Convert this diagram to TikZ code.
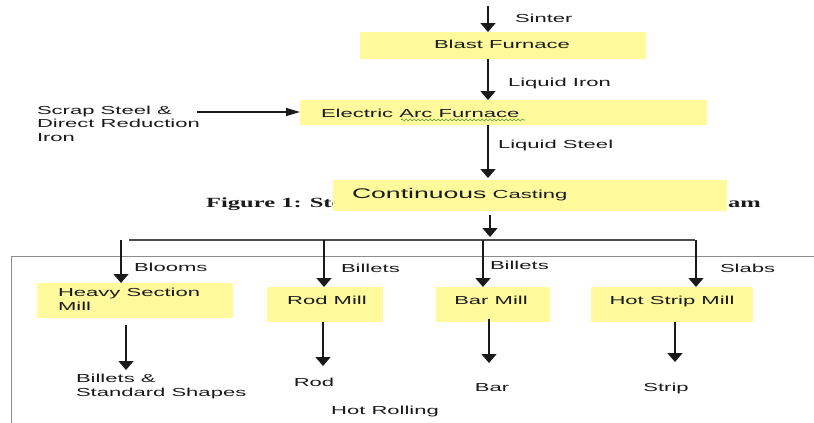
\documentclass[tikz,border=0pt]{standalone}
\usepackage{fontspec}
\setmainfont{Liberation Sans}
\newfontfamily\capfont{Liberation Serif}
\usetikzlibrary{arrows.meta,decorations.pathmorphing}
\definecolor{boxyellow}{HTML}{FFFA9C}
\definecolor{txt}{HTML}{1A1A1A}
\definecolor{spell}{HTML}{5E9E3A}
\newcommand{\W}[1]{\scalebox{1.9}[1]{#1}}
\newcommand{\Wc}[1]{\scalebox{1.75}[1]{#1}}
\begin{document}
\begin{tikzpicture}[x=1pt,y=-1pt,
  box/.style={fill=boxyellow,inner sep=0pt,outer sep=0pt},
  lbl/.style={inner sep=0pt,outer sep=0pt,anchor=base west,text=txt,font=\fontsize{11.6}{13.5}\selectfont,align=left},
  clbl/.style={inner sep=0pt,outer sep=0pt,anchor=base,text=txt,font=\fontsize{11.6}{13.5}\selectfont},
  flow/.style={line width=1.6pt,draw=txt,-{Triangle[width=15pt,length=9pt]}},
  hflow/.style={line width=1.2pt,draw=txt,-{Triangle[width=8pt,length=14pt]}},
  bus/.style={line width=1.4pt,draw=black!70},
  frame/.style={line width=0.9pt,draw=black!45},
  ]
\useasboundingbox (0,0) rectangle (814,423);

% frame of the hot rolling section
\draw[frame] (814,256) -- (11,256) -- (11,423);

% caption partly hidden behind the casting box
\node[inner sep=0pt,anchor=base west,text=txt,font=\capfont\bfseries\fontsize{14}{16}\selectfont] (capL) at (206,207) {\Wc{Figure 1: Ste}};
\node[inner sep=0pt,anchor=base east,text=txt,font=\capfont\bfseries\fontsize{14}{16}\selectfont] (capR) at (761,207) {\Wc{am}};

% boxes
\node[box,minimum width=286pt,minimum height=27pt] (bf) at (503,45.5) {};
\node[box,minimum width=407pt,minimum height=25pt] (eaf) at (503.5,112.5) {};
\node[box,minimum width=394pt,minimum height=31pt] (cc) at (530,195.5) {};
\node[box,minimum width=196pt,minimum height=35pt] (hsm) at (135,300.5) {};
\node[box,minimum width=116pt,minimum height=35pt] (rm) at (325,304.5) {};
\node[box,minimum width=114pt,minimum height=35pt] (bm) at (493,304.5) {};
\node[box,minimum width=162pt,minimum height=35pt] (hs) at (672,304.5) {};

% box texts
\node[clbl] (bft) at (502,48) {\W{Blast Furnace}};
\node[lbl] (eaft) at (321,117) {\W{Electric Arc Furnace}};
\node[lbl] (cct) at (352,198) {\W{{\fontsize{14}{16}\selectfont Continuous} Casting}};
\node[lbl] (hsmt) at (58,310) {\W{Heavy Section}\\\W{Mill}};
\node[clbl] (rmt) at (327,304) {\W{Rod Mill}};
\node[clbl] (bmt) at (491,304) {\W{Bar Mill}};
\node[clbl] (hst) at (672,304) {\W{Hot Strip Mill}};

% spelling underline
\coordinate (w0) at (401,120);
\coordinate (w1) at (525,120);
\draw[spell,line width=0.6pt,decorate,decoration={snake,amplitude=1pt,segment length=4pt}] (w0) -- (w1);

% other labels
\node[lbl] (sinter) at (515,23) {\W{Sinter}};
\node[lbl] (liron) at (508,86) {\W{Liquid Iron}};
\node[lbl] (lsteel) at (498,148) {\W{Liquid Steel}};
\node[lbl] (scrap) at (37,141) {\W{Scrap Steel \&}\\\W{Direct Reduction}\\\W{Iron}};
\node[lbl] (blooms) at (134,271) {\W{Blooms}};
\node[lbl] (bil1) at (341,272) {\W{Billets}};
\node[lbl] (bil2) at (490,269) {\W{Billets}};
\node[lbl] (slabs) at (720,272) {\W{Slabs}};
\node[lbl] (bss) at (76,396) {\W{Billets \&}\\\W{Standard Shapes}};
\node[clbl] (rod) at (314,386) {\W{Rod}};
\node[clbl] (bar) at (492,391) {\W{Bar}};
\node[clbl] (strip) at (666,391) {\W{Strip}};
\node[clbl] (hr) at (385,414) {\W{Hot Rolling}};

% main line
\coordinate (s0) at (488,6);
\draw[flow] (s0) -- (s0 |- bf.north);
\draw[flow] (s0 |- bf.south) -- (s0 |- eaf.north);
\draw[flow,shorten >=2pt] (s0 |- eaf.south) -- (s0 |- cc.north);
\coordinate (sc) at (197,112);
\draw[hflow] (sc) -- (sc -| eaf.west);

% split
\coordinate (split) at (490,240);
\draw[flow,shorten <=4pt,shorten >=3pt] (split |- cc.south) -- (split);
\coordinate (busL) at (129,240);
\coordinate (busR) at (695,240);
\draw[bus] (busL) -- (busR);
\coordinate (d1) at (121,240);
\coordinate (d2) at (324,240);
\coordinate (d3) at (483,240);
\coordinate (d4) at (696,240);
\draw[flow] (d1) -- (d1 |- hsm.north);
\draw[flow] (d2) -- (d2 |- rm.north);
\draw[flow] (d3) -- (d3 |- bm.north);
\draw[flow] (d4) -- (d4 |- hs.north);

% outputs
\coordinate (o1) at (126,370);
\coordinate (o2) at (323,366);
\coordinate (o3) at (489,363);
\coordinate (o4) at (675,362);
\draw[flow,shorten <=7pt] (o1 |- hsm.south) -- (o1);
\draw[flow] (o2 |- rm.south) -- (o2);
\draw[flow,shorten <=-3pt] (o3 |- bm.south) -- (o3);
\draw[flow] (o4 |- hs.south) -- (o4);
\end{tikzpicture}
\end{document}
